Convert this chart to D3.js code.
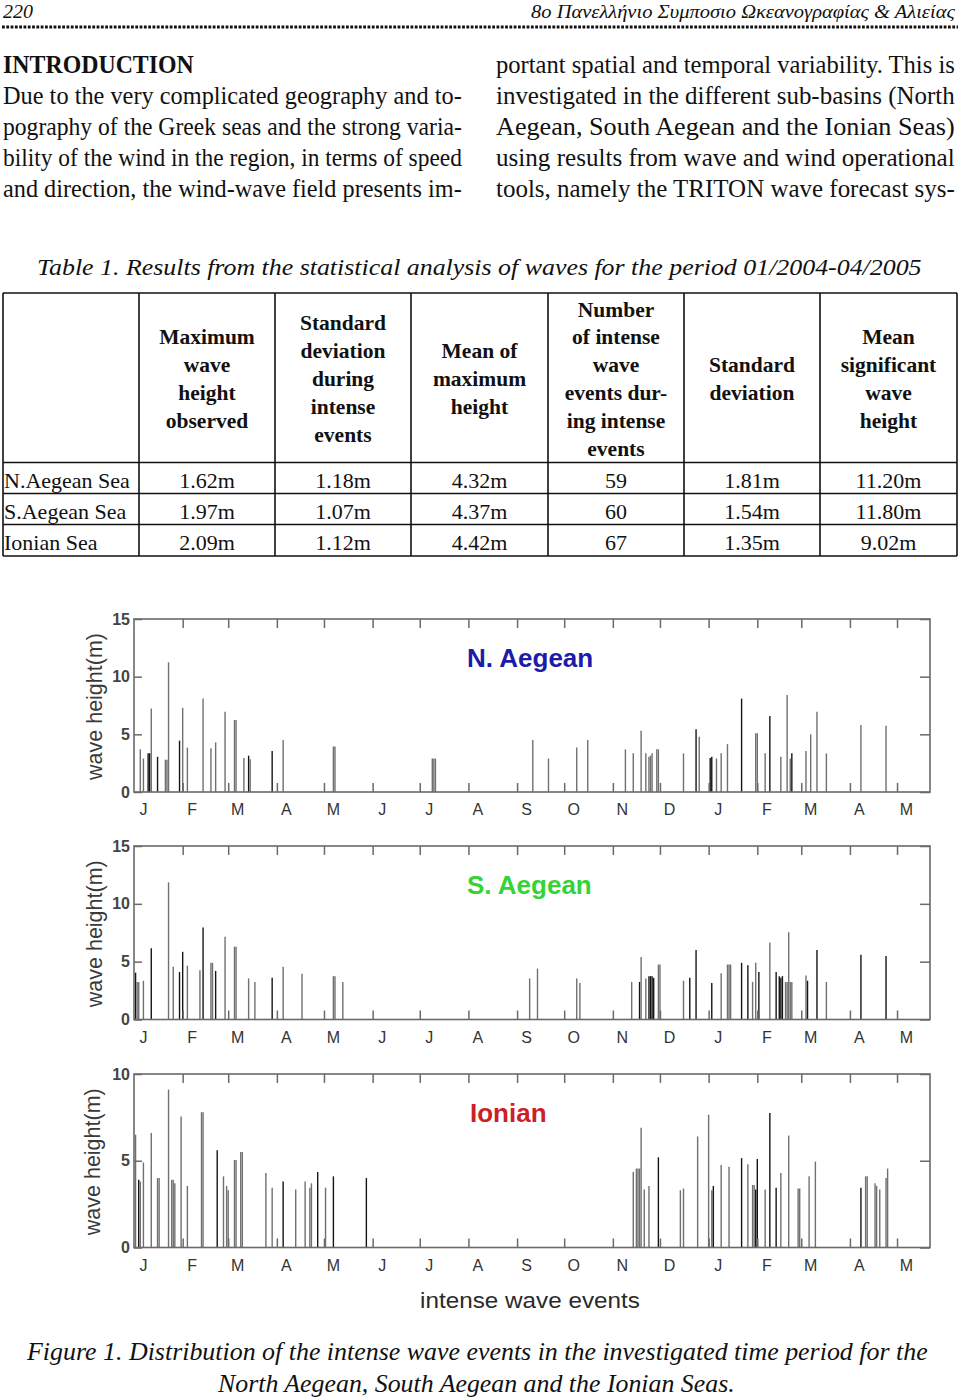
<!DOCTYPE html>
<html><head><meta charset="utf-8">
<script src="https://cdn.jsdelivr.net/npm/d3@7"></script>
<style>body{margin:0;background:#fff} svg{display:block}</style>
</head><body><svg id="page" width="960" height="1398"></svg>
<script>
// ---------------- DATA ----------------
const monthLabels = ["J","F","M","A","M","J","J","A","S","O","N","D","J","F","M","A","M"];
const yTicks15 = [0,5,10,15];
const yTicks10 = [0,5,10];

// events: [day since 2004-01-01, wave height (m), type (1 = black, 0 = grey)]
const nAegeanEvents = [
 [4,3.7,0],[6,2.9,0],[9,3.35,1],[10,3.35,1],[11,7.25,0],[15,3.05,1],[20,2.8,0],[21,2.8,0],[22,11.25,0],
 [29,4.45,1],[31,7.3,0],[34,3.85,0],[44,8.1,0],[49,3.8,0],[52,4.3,0],[58,6.95,0],[64,6.25,0],[65,6.25,0],
 [70,2.95,0],[73,3.15,1],[74,2.85,0],[88,3.55,1],[95,4.5,0],[127,3.95,0],[128,3.95,0],
 [190,2.9,0],[191,2.9,0],[192,2.9,0],
 [254,4.5,0],[264,2.9,0],[282,3.85,0],[289,4.5,0],[313,3.7,0],[318,3.35,0],[323,5.3,0],[326,3.35,0],
 [328,3.05,0],[329,3.15,0],[330,3.35,0],[333,3.7,0],[334,3.7,0],[350,3.35,0],[358,5.45,1],[360,4.8,0],
 [367,2.95,1],[368,3.05,1],[371,2.9,0],[374,3.35,0],[378,4.15,0],[387,8.1,1],[396,5.1,0],[397,5.1,0],
 [402,3.35,0],[405,6.6,1],[412,3.05,0],[416,8.4,0],[418,2.9,0],[419,3.35,1],[428,3.55,0],[431,5.0,0],
 [435,6.95,0],[441,3.35,0],[463,5.8,0],[479,5.75,0]
];
const sAegeanEvents = [
 [1,4.05,1],[2,3.25,0],[3,3.25,0],[6,3.35,0],[11,6.15,1],[22,11.85,0],[25,4.55,0],[29,4.1,1],[31,5.85,1],
 [34,4.65,0],[42,4.25,0],[44,7.95,1],[49,4.9,0],[50,4.9,0],[52,4.2,1],[58,7.15,0],[64,6.3,0],[65,6.3,0],
 [73,3.55,0],[77,3.25,0],[88,3.6,1],[95,4.55,0],[107,3.95,0],[127,3.75,0],[128,3.75,0],[133,3.25,0],
 [252,3.55,0],[257,4.4,0],[282,3.55,0],[284,3.15,0],[317,3.25,0],[322,3.25,1],[323,5.4,0],[326,3.55,0],
 [328,3.75,1],[329,3.75,1],[330,3.75,1],[331,3.6,1],[334,4.75,0],[335,4.75,0],[350,3.35,0],[354,3.6,1],
 [358,6.0,1],[368,3.15,1],[374,4.0,0],[378,4.75,0],[379,4.75,0],[380,4.75,0],[387,4.9,1],[391,4.7,1],
 [394,3.25,0],[396,4.9,0],[398,4.1,1],[405,6.65,0],[409,4.1,1],[411,3.75,1],[412,3.6,1],[413,3.75,1],
 [415,3.25,0],[416,3.25,0],[417,7.55,0],[418,3.25,0],[419,3.25,0],[428,3.8,0],[429,3.35,1],[435,6.0,1],
 [441,3.25,0],[463,5.6,1],[479,5.5,1]
];
const ionianEvents = [
 [1,6.5,0],[3,3.9,1],[4,3.8,0],[6,4.9,0],[11,6.6,0],[15,4.0,0],[16,4.0,0],[22,9.1,0],[24,3.9,0],[25,3.9,0],
 [26,3.7,0],[30,7.55,0],[34,3.55,0],[43,7.8,0],[44,7.8,0],[53,5.6,1],[57,4.1,0],[59,3.55,0],[60,3.3,0],
 [64,5.05,0],[65,5.05,0],[68,5.5,0],[69,5.5,0],[84,4.3,0],[88,3.45,0],[95,3.8,1],[103,3.35,0],[109,3.8,0],
 [112,3.45,0],[113,3.7,0],[117,4.35,1],[122,3.45,0],[127,4.1,1],[148,4.0,1],
 [318,4.35,0],[320,4.55,0],[321,4.55,0],[322,4.55,0],[323,6.9,0],[325,3.35,0],[328,3.55,0],[334,5.2,1],
 [348,3.3,0],[350,3.4,0],[359,6.4,0],[366,7.65,0],[368,3.3,0],[369,3.55,1],[374,4.75,0],[379,4.65,0],
 [387,5.15,1],[391,4.8,0],[394,3.6,0],[395,3.6,0],[396,3.35,1],[397,5.1,1],[402,3.35,0],[405,7.75,1],
 [409,3.45,1],[412,4.3,0],[417,6.45,0],[423,3.4,0],[424,3.4,0],[430,4.1,0],[434,4.95,0],[463,3.45,1],
 [466,4.1,0],[467,4.1,0],[472,3.7,0],[473,3.55,0],[475,3.35,0],[479,4.0,0],[480,4.55,0]
];

// table
const tableHeaders = [
 ["Maximum","wave","height","observed"],
 ["Standard","deviation","during","intense","events"],
 ["Mean of","maximum","height"],
 ["Number","of intense","wave","events dur-","ing intense","events"],
 ["Standard","deviation"],
 ["Mean","significant","wave","height"]
];
const seas = ["N.Aegean Sea","S.Aegean Sea","Ionian Sea"];
const maxWaveHeight = [1.62,1.97,2.09];
const sdIntense = [1.18,1.07,1.12];
const meanMaxHeight = [4.32,4.37,4.42];
const nIntenseEvents = [59,60,67];
const stdDeviation = [1.81,1.54,1.35];
const meanSigHeight = [11.20,11.80,9.02];

// text
const headerLeft = "220";
const headerRight = "8o Πανελλήνιο Συμποσιο Ωκεανογραφίας & Αλιείας";
const introLeft = ["Due to the very complicated geography and to-","pography of the Greek seas and the strong varia-","bility of the wind in the region, in terms of speed","and direction, the wind-wave field presents im-"];
const introRight = ["portant spatial and temporal variability. This is","investigated in the different sub-basins (North","Aegean, South Aegean and the Ionian Seas)","using results from wave and wind operational","tools, namely the TRITON wave forecast sys-"];
const tableCaption = "Table 1. Results from the statistical analysis of waves for the period 01/2004-04/2005";
const figCaption = ["Figure 1. Distribution of the intense wave events in the investigated time period for the","North Aegean, South Aegean and the Ionian Seas."];

// ---------------- DRAW ----------------
const svg = d3.select("#page");
const SERIF = "'Liberation Serif','Times New Roman',serif";
const SANS = "'Liberation Sans',Arial,Helvetica,sans-serif";

// o.len: fit the text horizontally to that width (condensed scan look)
function text(x, y, s, o = {}) {
  const t = svg.append("text").text(s)
    .attr("font-family", o.family || SERIF).attr("font-size", o.size || 22)
    .attr("fill", o.fill || "#111");
  if (o.italic) t.attr("font-style", "italic");
  if (o.bold) t.attr("font-weight", "bold");
  if (o.anchor) t.attr("text-anchor", o.anchor);
  if (o.len) {
    const w = t.node().getComputedTextLength();
    const k = w > 0 ? o.len / w : 1;
    t.attr("x", 0).attr("y", 0).attr("transform", `translate(${x},${y}) scale(${k},1)`);
  } else {
    t.attr("x", x).attr("y", y);
  }
  return t;
}

// header
text(3, 18, headerLeft, {italic: true, size: 19, len: 30});
text(531, 18, headerRight, {italic: true, size: 19, len: 424});
svg.append("line").attr("x1", 2).attr("x2", 958).attr("y1", 27).attr("y2", 27)
  .attr("stroke", "#111").attr("stroke-width", 3).attr("stroke-dasharray", "2.8 1.5");

// intro
text(3, 72.5, "INTRODUCTION", {bold: true, size: 26, len: 191});
introLeft.forEach((s, i) => text(3, 103.5 + i * 31, s, {size: 26, len: 459}));
introRight.forEach((s, i) => text(496, 72.5 + i * 31, s, {size: 26, len: 459}));

// table caption
text(37, 275, tableCaption, {italic: true, size: 24, len: 885});

// table
const colX = [3, 139, 275, 411, 548, 684, 820, 957];
const rowY = [293, 462.5, 493.5, 524.5, 556];
const tg = svg.append("g").attr("stroke", "#111").attr("stroke-width", 1.6);
colX.forEach(x => tg.append("line").attr("x1", x).attr("x2", x).attr("y1", rowY[0]).attr("y2", rowY[4]));
rowY.forEach(y => tg.append("line").attr("x1", colX[0]).attr("x2", colX[7]).attr("y1", y).attr("y2", y));
const headCenter = 386;
tableHeaders.forEach((lines, c) => {
  const cx = (colX[c + 1] + colX[c + 2]) / 2;
  const y0 = headCenter - (lines.length - 1) * 27.8 / 2;
  lines.forEach((s, i) => text(cx, y0 + i * 27.8, s, {bold: true, size: 21.5, anchor: "middle"}));
});
const cols = [maxWaveHeight, sdIntense, meanMaxHeight, nIntenseEvents, stdDeviation, meanSigHeight];
seas.forEach((s, r) => {
  const y = 487.5 + r * 31;
  text(4, y, s, {size: 22});
  cols.forEach((arr, c) => {
    const cx = (colX[c + 1] + colX[c + 2]) / 2;
    const v = c === 3 ? String(arr[r]) : arr[r].toFixed(2) + "m";
    text(cx, y, v, {size: 22, anchor: "middle"});
  });
});

// charts
const t0 = new Date(2004, 0, 1), t1 = new Date(2005, 4, 22);
const x = d3.scaleTime().domain([t0, t1]).range([134, 930]);
const monthTicks = d3.timeMonth.range(new Date(2004, 1, 1), new Date(2005, 4, 2));
const monthStarts = d3.timeMonth.range(t0, new Date(2005, 4, 2));

const panels = [
  {title: "N. Aegean", color: "#1c1ca8", top: 619, bottom: 792, yMax: 15, ticks: yTicks15, events: nAegeanEvents, labelX: 102, titleX: 467},
  {title: "S. Aegean", color: "#35d335", top: 846, bottom: 1019.5, yMax: 15, ticks: yTicks15, events: sAegeanEvents, labelX: 102, titleX: 467},
  {title: "Ionian", color: "#cc1f2a", top: 1074, bottom: 1247.5, yMax: 10, ticks: yTicks10, events: ionianEvents, labelX: 100, titleX: 470}
];

panels.forEach(p => {
  const y = d3.scaleLinear().domain([0, p.yMax]).range([p.bottom, p.top]);
  const g = svg.append("g");
  const axisStyle = sel => {
    sel.attr("font-size", null).attr("font-family", null);
    sel.select(".domain").remove();
    sel.selectAll("line").attr("stroke", "#6a6a6a").attr("stroke-width", 1.5);
    sel.selectAll("text").attr("font-family", SANS).attr("font-size", 16).attr("fill", "#333");
  };
  // bars
  g.append("g").selectAll("line").data(p.events).join("line")
    .attr("x1", d => x(d3.timeDay.offset(t0, d[0]))).attr("x2", d => x(d3.timeDay.offset(t0, d[0])))
    .attr("y1", y(0)).attr("y2", d => y(d[1]))
    .attr("stroke", d => d[2] ? "#151515" : "#707070").attr("stroke-width", 1.4);
  // month ticks bottom / top
  g.append("g").attr("transform", `translate(0,${p.bottom})`)
    .call(d3.axisBottom(x).tickValues(monthTicks).tickSize(-9).tickFormat("")).call(axisStyle);
  g.append("g").attr("transform", `translate(0,${p.top})`)
    .call(d3.axisTop(x).tickValues(monthTicks).tickSize(-9).tickFormat("")).call(axisStyle);
  // month labels
  g.append("g").attr("transform", `translate(9,${p.bottom})`)
    .call(d3.axisBottom(x).tickValues(monthStarts).tickSize(0).tickPadding(12).tickFormat((d, i) => monthLabels[i]))
    .call(axisStyle);
  // y axes
  g.append("g").attr("transform", `translate(134,0)`)
    .call(d3.axisLeft(y).tickValues(p.ticks).tickSize(-8).tickPadding(4)).call(axisStyle)
    .selectAll("text").attr("font-weight", "bold").attr("fill", "#444");
  g.append("g").attr("transform", `translate(930,0)`)
    .call(d3.axisRight(y).tickValues(p.ticks).tickSize(-10).tickFormat("")).call(axisStyle);
  // frame
  g.append("rect").attr("x", 134).attr("y", p.top).attr("width", 796).attr("height", p.bottom - p.top)
    .attr("fill", "none").attr("stroke", "#6a6a6a").attr("stroke-width", 1.6);
  // y label
  g.append("text").attr("transform", `translate(${p.labelX},${(p.top + p.bottom) / 2 + 1}) rotate(-90)`)
    .attr("text-anchor", "middle").attr("font-family", SANS).attr("font-size", 21.5).attr("fill", "#3a3a3a")
    .text("wave height(m)");
  // title
  g.append("text").attr("x", p.titleX).attr("y", p.top + 48).attr("font-family", SANS)
    .attr("font-weight", "bold").attr("font-size", 26).attr("fill", p.color).text(p.title);
});

text(530, 1308, "intense wave events", {family: SANS, size: 22, anchor: "middle", fill: "#2a2a2a", len: 220});

// figure caption
text(27, 1360, figCaption[0], {italic: true, size: 25, len: 901});
text(218, 1392, figCaption[1], {italic: true, size: 25, len: 517});
</script></body></html>
